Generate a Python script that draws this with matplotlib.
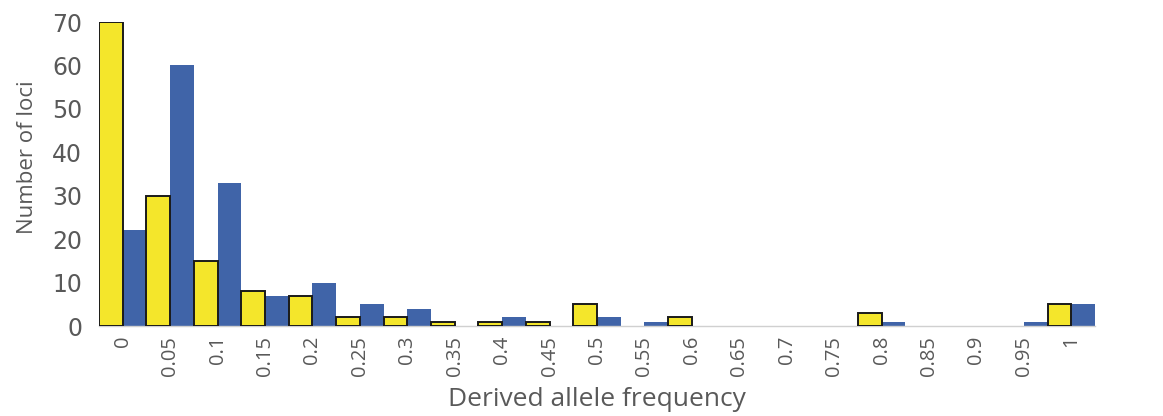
import matplotlib
matplotlib.use("Agg")
import matplotlib.pyplot as plt
import numpy as np

# Derived allele frequency bins and locus counts for the two groups
freq_labels = ["0", "0.05", "0.1", "0.15", "0.2", "0.25", "0.3", "0.35", "0.4",
               "0.45", "0.5", "0.55", "0.6", "0.65", "0.7", "0.75", "0.8",
               "0.85", "0.9", "0.95", "1"]
yellow_counts = [70, 30, 15, 8, 7, 2, 2, 1, 1, 1, 5, 0, 2, 0, 0, 0, 3, 0, 0, 0, 5]
blue_counts = [22, 60, 33, 7, 10, 5, 4, 0, 2, 0, 2, 1, 0, 0, 0, 0, 1, 0, 0, 1, 5]

yellow = "#F4E62B"
blue = "#4064A8"
text_grey = "#595959"

fig = plt.figure(figsize=(11.63, 4.16), dpi=100)
ax = fig.add_axes([99 / 1163, 1 - 326 / 416, (1095 - 99) / 1163, (326 - 22) / 416])

x = np.arange(len(freq_labels))
w = 0.5
# outline only the bars that actually have height
edge_widths = [1.4 if v > 0 else 0 for v in yellow_counts]
ax.bar(x - w / 2, yellow_counts, width=w, color=yellow, edgecolor="#1a1a1a",
       linewidth=edge_widths, zorder=3)
ax.bar(x + w / 2, blue_counts, width=w, color=blue, edgecolor="none", zorder=2)

ax.set_xlim(-0.5, len(freq_labels) - 0.5)
ax.set_ylim(0, 70)
ax.set_yticks(np.arange(0, 71, 10))
ax.set_xticks(x)
ax.set_xticklabels(freq_labels, rotation=90, fontfamily="Open Sans",
                   fontsize=14.5, color=text_grey)
for lbl in ax.get_yticklabels():
    lbl.set_fontfamily("DejaVu Sans")
    lbl.set_fontsize(17)
    lbl.set_color(text_grey)
ax.tick_params(axis="both", length=0)
ax.tick_params(axis="y", pad=12)
ax.tick_params(axis="x", pad=7)

for side in ("top", "right", "left"):
    ax.spines[side].set_visible(False)
ax.spines["bottom"].set_color("#d0d0d0")
ax.spines["bottom"].set_linewidth(1.0)

ax.set_ylabel("Number of loci", fontfamily="Open Sans", fontsize=16,
              color=text_grey)
ax.yaxis.set_label_coords(-0.061, 0.556)
ax.set_xlabel("Derived allele frequency", fontfamily="Open Sans", fontsize=19,
              color=text_grey)
ax.xaxis.set_label_coords(0.5, -0.2)

fig.savefig("out.png", dpi=100)
